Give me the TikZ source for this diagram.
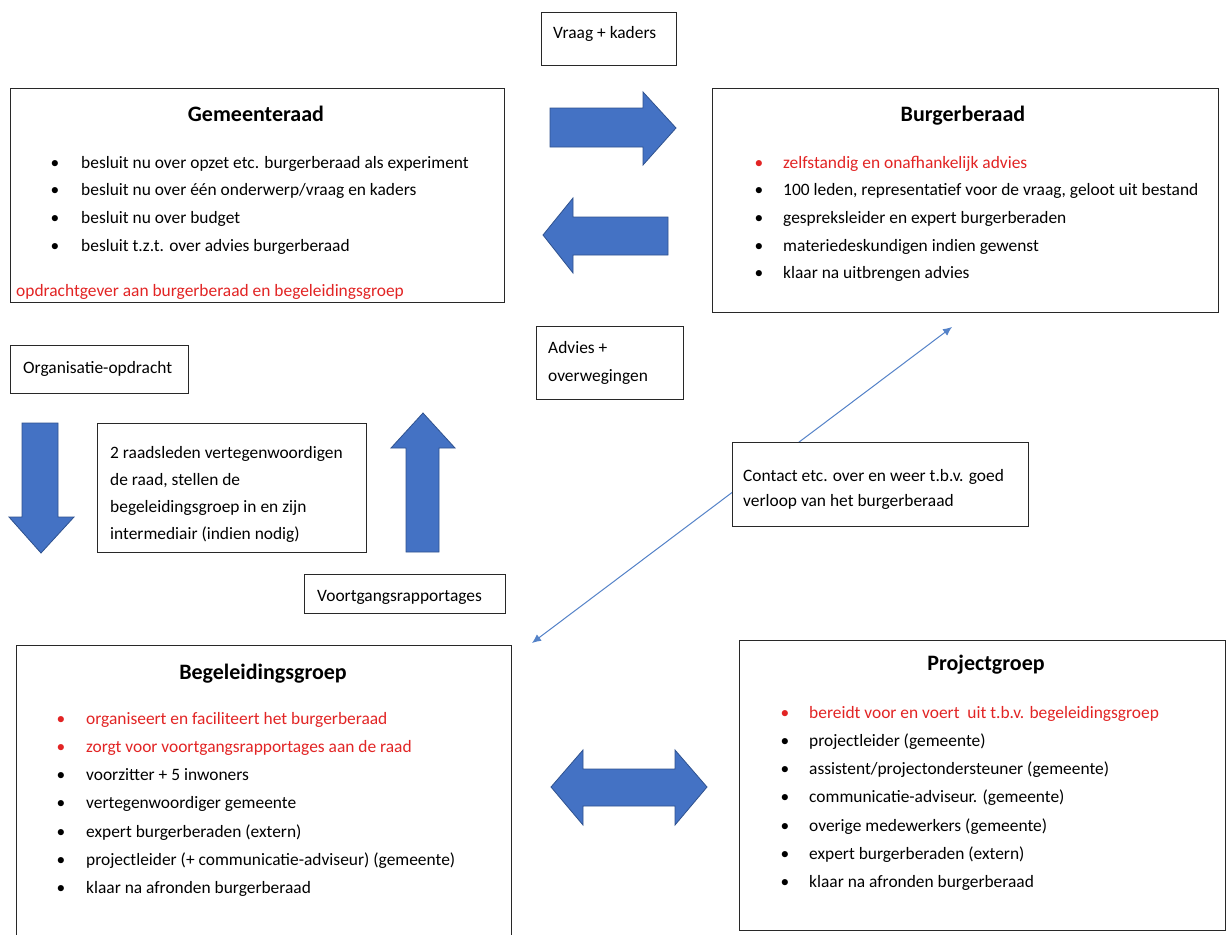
\documentclass[tikz,border=0pt]{standalone}
\usepackage{fontspec}
\setmainfont{Carlito}
\usetikzlibrary{calc,positioning,arrows.meta}

\definecolor{rood}{RGB}{226,36,36}
\definecolor{pijlblauw}{RGB}{68,114,196}
\definecolor{pijlrand}{RGB}{47,82,143}
\definecolor{lijnblauw}{RGB}{84,130,200}
\definecolor{rand}{RGB}{40,40,40}

\tikzset{
  kader/.style={draw=rand, line width=1.3pt, fill=white, anchor=north west, inner sep=0pt},
  kop/.style={font=\fontsize{22}{26}\selectfont\bfseries, anchor=base, inner sep=0pt},
  regel/.style={font=\fontsize{17.4}{21}\selectfont, anchor=base west, inner sep=0pt},
  punt/.style={font=\fontsize{17.4}{21}\selectfont, anchor=base, inner sep=0pt},
  blok/.style={fill=pijlblauw, draw=pijlrand, line width=0.8pt},
  lijn/.style={draw=lijnblauw, line width=1pt, {Latex[length=9pt,width=8pt]}-{Latex[length=9pt,width=8pt]}},
}

\begin{document}
\begin{tikzpicture}[x=1pt,y=-1pt]
\clip (0,0) rectangle (1231,934);
\fill[white] (0,0) rectangle (1231,934);

% blokpijlen
\draw[blok] (550,108) -- (643,108) -- (643,92) -- (676,128) -- (643,165) -- (643,147) -- (550,147) -- cycle;
\draw[blok] (668,217) -- (573,217) -- (573,198) -- (543,235) -- (573,273) -- (573,255) -- (668,255) -- cycle;
\draw[blok] (22,423) -- (58,423) -- (58,517) -- (74,517) -- (41,553) -- (9,517) -- (22,517) -- cycle;
\draw[blok] (406,552) -- (439,552) -- (439,448) -- (455,448) -- (423,413) -- (391,448) -- (406,448) -- cycle;
\draw[blok] (551,787) -- (583,750) -- (583,769) -- (675,769) -- (675,750) -- (707,787)
  -- (675,825) -- (675,806) -- (583,806) -- (583,825) -- cycle;

% Gemeenteraad
\node[kader, minimum width=494, minimum height=214] (gr) at (10,88) {};
\node[kop] (gr-kop) at ($(gr.north west)+(246,33)$) {Gemeenteraad};
\foreach \kleur/\tekst [count=\i] in {black/{besluit nu over opzet etc. burgerberaad als experiment},
    black/{besluit nu over één onderwerp/vraag en kaders}, black/{besluit nu over budget},
    black/{besluit t.z.t. over advies burgerberaad}}
  {\node[regel, text=\kleur] (gr-\i) at ($(gr.north west)+(71,80+27.7*\i-27.7)$) {\tekst};
   \node[punt, text=\kleur] (gr-p\i) at ($(gr-\i.base west)+(-26,0)$) {\textbullet};}
\node[regel, text=rood] (gr-rood) at ($(gr.north west)+(6,208)$) {opdrachtgever aan burgerberaad en begeleidingsgroep};

% Burgerberaad
\node[kader, minimum width=506, minimum height=224] (bb) at (712,88) {};
\node[kop] (bb-kop) at ($(bb.north west)+(251,33)$) {Burgerberaad};
\foreach \kleur/\tekst [count=\i] in {rood/{zelfstandig en onafhankelijk advies},
    black/{100 leden, representatief voor de vraag, geloot uit bestand},
    black/{gespreksleider en expert burgerberaden}, black/{materiedeskundigen indien gewenst},
    black/{klaar na uitbrengen advies}}
  {\node[regel, text=\kleur] (bb-\i) at ($(bb.north west)+(71,80+27.7*\i-27.7)$) {\tekst};
   \node[punt, text=\kleur] (bb-p\i) at ($(bb-\i.base west)+(-24,0)$) {\textbullet};}

% kleine kaders
\node[kader, minimum width=135, minimum height=53] (vk) at (541,12) {};
\node[regel] (vk-t) at ($(vk.north west)+(12,27)$) {Vraag + kaders};

\node[kader, minimum width=147, minimum height=73] (ao) at (536,326) {};
\node[regel] (ao-1) at ($(ao.north west)+(12,27)$) {Advies +};
\node[regel] (ao-2) at ($(ao.north west)+(12,55)$) {overwegingen};

\node[kader, minimum width=178, minimum height=48] (oo) at (10,345) {};
\node[regel] (oo-t) at ($(oo.north west)+(13,28)$) {Organisatie-opdracht};

\node[kader, minimum width=269, minimum height=129] (rl) at (97,423) {};
\foreach \tekst [count=\i] in {2 raadsleden vertegenwoordigen, {de raad, stellen de},
    begeleidingsgroep in en zijn, intermediair (indien nodig)}
  {\node[regel] (rl-\i) at ($(rl.north west)+(13,35+27*\i-27)$) {\tekst};}

\node[kader, minimum width=201, minimum height=39] (vr) at (304,574) {};
\node[regel] (vr-t) at ($(vr.north west)+(13,27)$) {Voortgangsrapportages};

% contact tussen burgerberaad en begeleidingsgroep
\coordinate (bg-punt) at (532,643);
\coordinate (bb-punt) at (952,327);
\draw[lijn] (bg-punt) -- (bb-punt);

\node[kader, minimum width=296, minimum height=84] (ct) at (732,442) {};
\node[regel] (ct-1) at ($(ct.north west)+(11,39)$) {Contact etc. over en weer t.b.v. goed};
\node[regel] (ct-2) at ($(ct.north west)+(11,64)$) {verloop van het burgerberaad};

% Begeleidingsgroep
\node[kader, minimum width=495, minimum height=310] (bg) at (16,645) {};
\node[kop] (bg-kop) at ($(bg.north west)+(247,34)$) {Begeleidingsgroep};
\foreach \kleur/\tekst [count=\i] in {rood/{organiseert en faciliteert het burgerberaad},
    rood/{zorgt voor voortgangsrapportages aan de raad}, black/{voorzitter + 5 inwoners},
    black/{vertegenwoordiger gemeente}, black/{expert burgerberaden (extern)},
    black/{projectleider (+ communicatie-adviseur) (gemeente)}, black/{klaar na afronden burgerberaad}}
  {\node[regel, text=\kleur] (bg-\i) at ($(bg.north west)+(70,79+28.3*\i-28.3)$) {\tekst};
   \node[punt, text=\kleur] (bg-p\i) at ($(bg-\i.base west)+(-25,0)$) {\textbullet};}

% Projectgroep
\node[kader, minimum width=486, minimum height=290] (pg) at (739,640) {};
\node[kop] (pg-kop) at ($(pg.north west)+(247,30)$) {Projectgroep};
\foreach \kleur/\tekst [count=\i] in {rood/{bereidt voor en voert \ uit t.b.v. begeleidingsgroep},
    black/{projectleider (gemeente)}, black/{assistent/projectondersteuner (gemeente)},
    black/{communicatie-adviseur. (gemeente)}, black/{overige medewerkers (gemeente)},
    black/{expert burgerberaden (extern)}, black/{klaar na afronden burgerberaad}}
  {\node[regel, text=\kleur] (pg-\i) at ($(pg.north west)+(70,78+28.3*\i-28.3)$) {\tekst};
   \node[punt, text=\kleur] (pg-p\i) at ($(pg-\i.base west)+(-24,0)$) {\textbullet};}
\end{tikzpicture}
\end{document}
